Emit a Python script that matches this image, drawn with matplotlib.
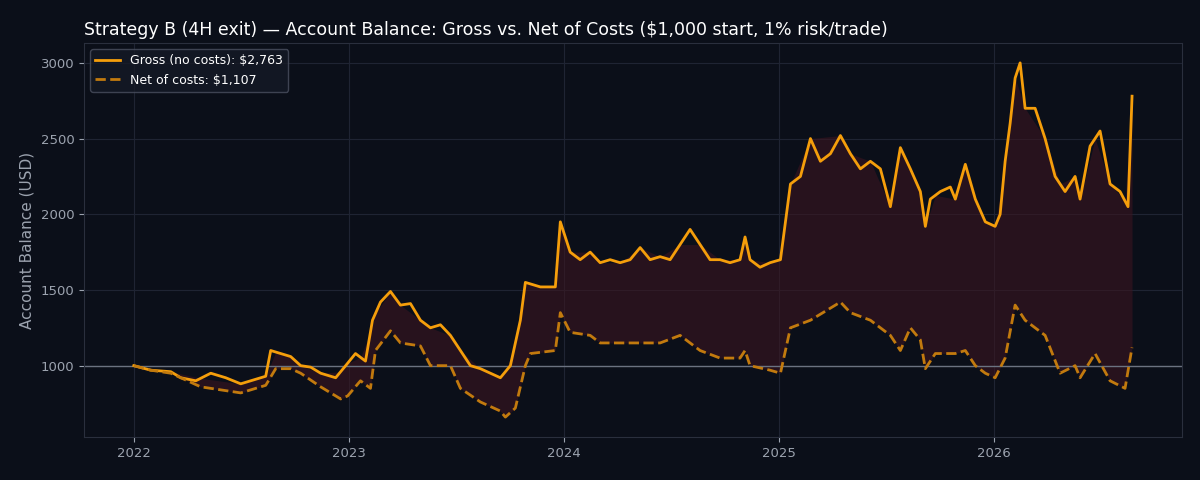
import matplotlib
matplotlib.use("Agg")
import matplotlib.pyplot as plt
import matplotlib.dates as mdates
from datetime import datetime, timedelta

def px2date(p):
    y = 2022 + (p - 133) / 215.25
    yr = int(y)
    start = datetime(yr, 1, 1)
    return start + timedelta(days=(y - yr) * 365.25)

gross_px = [133,150,170,180,195,210,225,240,255,265,270,280,290,300,310,320,335,345,355,365,372,380,390,400,410,420,430,440,450,460,470,480,490,500,510,520,525,540,555,560,570,580,590,600,610,620,630,640,650,660,670,680,690,700,710,720,730,740,745,750,760,770,780,790,800,810,820,830,840,850,860,870,880,890,900,910,920,925,930,940,950,955,965,975,985,995,1000,1005,1010,1015,1020,1025,1035,1045,1055,1065,1075,1080,1090,1100,1110,1120,1128,1132]
gross_val = [1000,970,960,920,900,950,920,880,910,930,1100,1080,1060,1000,990,950,920,1000,1080,1030,1300,1420,1490,1400,1410,1300,1250,1270,1200,1100,1000,980,950,920,1000,1300,1550,1520,1520,1950,1750,1700,1750,1680,1700,1680,1700,1780,1700,1720,1700,1800,1900,1800,1700,1700,1680,1700,1850,1700,1650,1680,1700,2200,2250,2500,2350,2400,2520,2400,2300,2350,2300,2050,2440,2300,2150,1920,2100,2150,2180,2100,2330,2100,1950,1920,2000,2350,2600,2900,3000,2700,2700,2500,2250,2150,2250,2100,2450,2550,2200,2150,2050,2780]
net_px = [133,150,170,200,240,265,275,290,300,320,340,347,360,370,375,390,400,420,430,450,460,480,500,505,515,525,530,555,560,570,590,600,620,640,660,680,700,720,740,745,750,770,780,790,810,840,850,870,890,900,910,920,925,935,955,965,975,985,995,1005,1015,1025,1045,1060,1075,1080,1095,1110,1125,1132]
net_val = [1000,970,950,860,820,870,980,980,950,860,780,800,900,850,1100,1230,1150,1130,1000,1000,850,760,700,660,720,1000,1080,1100,1350,1220,1200,1150,1150,1150,1150,1200,1100,1050,1050,1100,1000,970,950,1250,1300,1420,1350,1300,1200,1100,1250,1170,980,1080,1080,1100,1000,950,920,1050,1400,1300,1200,950,1000,920,1080,900,850,1120]

gd = [px2date(p) for p in gross_px]
nd = [px2date(p) for p in net_px]
gross_fill_on_net = [__import__("numpy").interp(p, gross_px, gross_val) for p in net_px]

bg = "#0b0f19"
fig, ax = plt.subplots(figsize=(12, 4.8), dpi=100)
fig.patch.set_facecolor(bg)
ax.set_facecolor(bg)
ax.fill_between(nd, net_val, gross_fill_on_net, color="#3a1520", alpha=0.6, lw=0)
ax.axhline(1000, color="#6b7280", lw=1)
ax.plot(gd, gross_val, color="#f59e0b", lw=2, label="Gross (no costs): $2,763")
ax.plot(nd, net_val, color="#c27a0e", lw=2, ls="--", label="Net of costs: $1,107")
ax.grid(True, color="#1f2433", lw=0.8)
ax.set_axisbelow(True)
for s in ax.spines.values():
    s.set_color("#2a2f3d")
ax.tick_params(colors="#9ca3af", labelsize=9.5)
ax.xaxis.set_major_locator(mdates.YearLocator())
ax.xaxis.set_major_formatter(mdates.DateFormatter("%Y"))
ax.set_xlim(px2date(83), px2date(1182))
ax.set_ylim(530, 3130)
ax.set_yticks([1000, 1500, 2000, 2500, 3000])
ax.set_ylabel("Account Balance (USD)", color="#9ca3af", fontsize=11)
ax.set_title("Strategy B (4H exit) — Account Balance: Gross vs. Net of Costs ($1,000 start, 1% risk/trade)",
             color="white", fontsize=12.5, loc="left")
leg = ax.legend(loc="upper left", facecolor="#151a26", edgecolor="#4b5060", labelcolor="white", fontsize=9)
fig.subplots_adjust(left=0.07, right=0.985, top=0.91, bottom=0.09)
fig.savefig("out.png", facecolor=bg)
